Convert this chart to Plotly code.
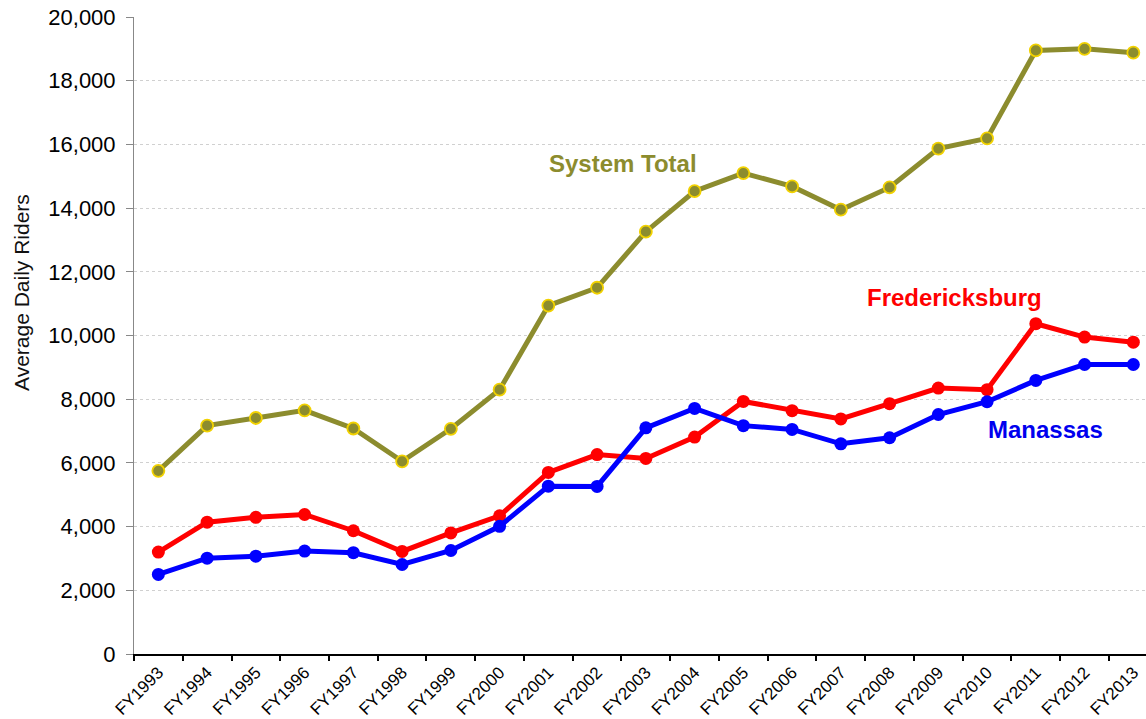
import plotly.graph_objects as go

# Average daily riders by fiscal year
years = [f"FY{y}" for y in range(1993, 2014)]

system_total = [5750, 7170, 7410, 7650, 7080, 6050, 7070, 8300, 10940, 11500,
                13260, 14530, 15100, 14680, 13950, 14650, 15870, 16190, 18950, 19000, 18880]
fredericksburg = [3200, 4140, 4290, 4380, 3870, 3220, 3800, 4340, 5700, 6260,
                  6140, 6810, 7930, 7640, 7380, 7860, 8350, 8300, 10370, 9950, 9790]
manassas = [2500, 3010, 3070, 3230, 3180, 2810, 3250, 4010, 5270, 5260,
            7100, 7710, 7170, 7050, 6600, 6790, 7520, 7920, 8590, 9090, 9090]

FONT = "Liberation Sans, Arial, sans-serif"
OLIVE = "#8c8c2e"

fig = go.Figure()

fig.add_trace(go.Scatter(
    x=years, y=system_total, mode="lines+markers", name="System Total",
    line=dict(color=OLIVE, width=5),
    marker=dict(size=12, color=OLIVE, line=dict(color="#f2d200", width=1.8))
))
fig.add_trace(go.Scatter(
    x=years, y=fredericksburg, mode="lines+markers", name="Fredericksburg",
    line=dict(color="#ff0000", width=5),
    marker=dict(size=13, color="#ff0000")
))
fig.add_trace(go.Scatter(
    x=years, y=manassas, mode="lines+markers", name="Manassas",
    line=dict(color="#0000ff", width=5),
    marker=dict(size=13, color="#0000ff")
))

# Series labels
labels = [
    ("System Total", 9.54, 15400, OLIVE),
    ("Fredericksburg", 16.33, 11200, "#ff0000"),
    ("Manassas", 18.19, 7050, "#0000ee"),
]
for text, xx, yy, col in labels:
    fig.add_annotation(x=xx, y=yy, xref="x", yref="y", text=f"<b>{text}</b>",
                       showarrow=False, font=dict(family=FONT, size=24, color=col))

# axis title placed as an annotation (it sits above the plot's centre in the original)
fig.add_annotation(x=(22 - 134) / 1012, y=(654 - 293) / 637, xref="paper", yref="paper",
                   text="Average Daily Riders", showarrow=False, textangle=-90,
                   xanchor="center", yanchor="middle",
                   font=dict(family=FONT, size=21, color="#111"))

fig.update_layout(
    width=1146, height=719,
    margin=dict(l=134, r=0, t=17, b=65),
    plot_bgcolor="white", paper_bgcolor="white",
    showlegend=False,
    font=dict(family=FONT, color="#000"),
)

fig.update_xaxes(
    type="category", range=[-0.5, 20.26], tickson="boundaries", automargin=False,
    ticks="outside", ticklen=5, tickwidth=2, tickcolor="#000",
    showline=True, linecolor="#000", linewidth=2,
    showgrid=False, tickangle=-45, tickfont=dict(size=17, color="#000"),
)
fig.update_yaxes(
    range=[0, 20000], dtick=2000, tickformat=",", automargin=False,
    ticks="outside", ticklen=7, tickcolor="#888",
    showline=True, linecolor="#888", linewidth=1,
    showgrid=True, gridcolor="#d0d0d0", griddash="dot", gridwidth=1,
    zeroline=False, tickfont=dict(size=22, color="#000"),
    ticklabelstandoff=6,
)

# drop the browser's default body margin so the figure sits at the page corner
fig.write_html("out.html", config={"displayModeBar": False},
               post_script="document.body.style.margin='0';")
